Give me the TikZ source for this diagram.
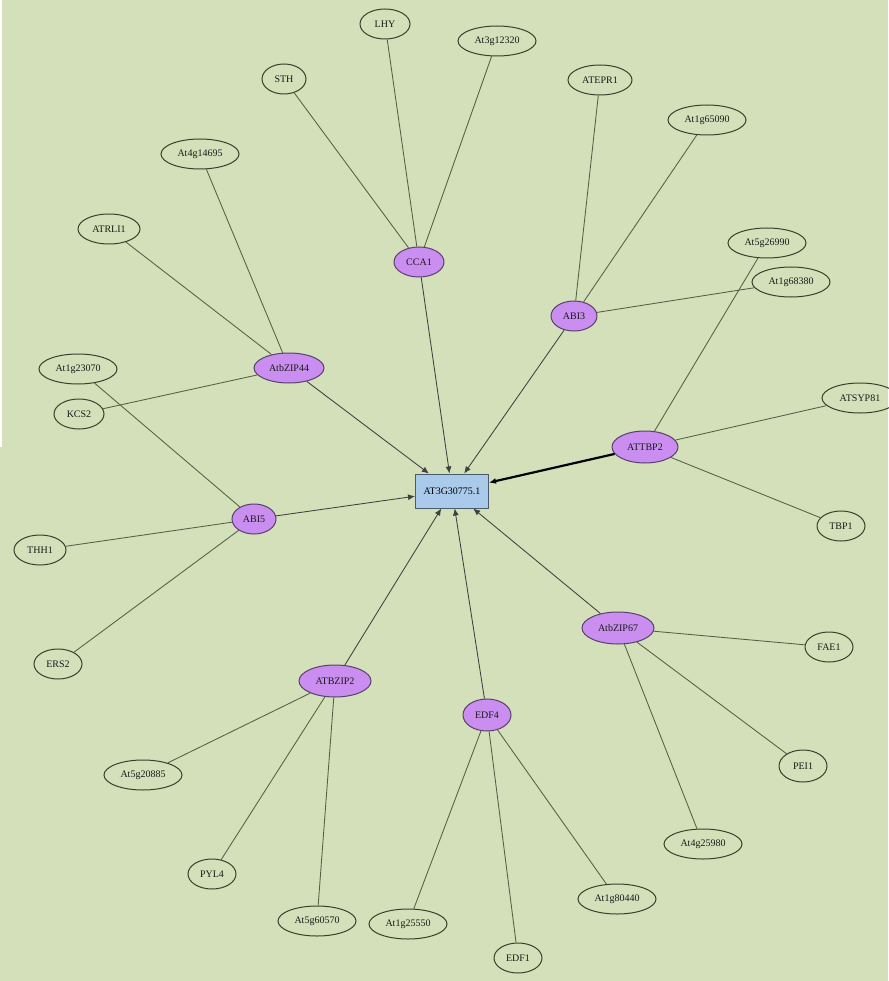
\documentclass[tikz,border=0pt]{standalone}
\usepackage{fontspec}
\setmainfont{Liberation Serif}
\usetikzlibrary{arrows.meta,shapes.geometric}
\definecolor{bgc}{RGB}{211,224,186}
\definecolor{hubc}{RGB}{201,142,240}
\definecolor{boxc}{RGB}{170,202,236}
\definecolor{edgec}{RGB}{82,96,70}
\definecolor{linec}{RGB}{55,65,45}
\tikzset{
  leaf/.style={ellipse, draw=linec, line width=1pt, inner sep=0pt, font=\fontsize{10}{11}\selectfont, text=black!90},
  hub/.style={leaf, fill=hubc, draw=hubc!45!black},
  target/.style={rectangle, draw=boxc!45!black, fill=boxc, line width=1pt, minimum width=73pt, minimum height=34pt, inner sep=0pt, font=\fontsize{10}{11}\selectfont},
  link/.style={draw=edgec, line width=0.85pt},
  arr/.style={draw=black!75, line width=0.85pt, -{Latex[length=7pt,width=6pt]}},
  thickarr/.style={draw=black, line width=2.2pt, -{Latex[length=7pt,width=6pt]}}
}
\begin{document}
\begin{tikzpicture}[x=1pt,y=-1pt]
\fill[bgc] (0,0) rectangle (888,981);
\fill[white] (0,0) rectangle (2,447);
\useasboundingbox (0,0) rectangle (888,981);
% target
\node[target] (T) at (452,491) {AT3G30775.1};
% hubs
\node[hub, minimum width=50pt, minimum height=30pt] (CCA1) at (419,262) {CCA1};
\node[hub, minimum width=46pt, minimum height=30pt] (ABI3) at (574,316) {ABI3};
\node[hub, minimum width=70pt, minimum height=30pt] (ZIP44) at (289,368) {AtbZIP44};
\node[hub, minimum width=66pt, minimum height=32pt] (TBP2) at (645,447) {ATTBP2};
\node[hub, minimum width=44pt, minimum height=30pt] (ABI5) at (254,519) {ABI5};
\node[hub, minimum width=72pt, minimum height=32pt] (BZIP2) at (335,681) {ATBZIP2};
\node[hub, minimum width=48pt, minimum height=32pt] (EDF4) at (487,715) {EDF4};
\node[hub, minimum width=72pt, minimum height=32pt] (ZIP67) at (618,628) {AtbZIP67};
% leaves
\node[leaf, minimum width=50pt, minimum height=30pt] (LHY) at (385,24) {LHY};
\node[leaf, minimum width=78pt, minimum height=30pt] (A3g12320) at (497,41) {At3g12320};
\node[leaf, minimum width=44pt, minimum height=30pt] (STH) at (284,79) {STH};
\node[leaf, minimum width=64pt, minimum height=30pt] (ATEPR1) at (600,80) {ATEPR1};
\node[leaf, minimum width=78pt, minimum height=30pt] (A1g65090) at (707,120) {At1g65090};
\node[leaf, minimum width=78pt, minimum height=30pt] (A4g14695) at (200,154) {At4g14695};
\node[leaf, minimum width=62pt, minimum height=30pt] (ATRLI1) at (109,229) {ATRLI1};
\node[leaf, minimum width=78pt, minimum height=30pt] (A5g26990) at (767,243) {At5g26990};
\node[leaf, minimum width=78pt, minimum height=30pt] (A1g68380) at (791,282) {At1g68380};
\node[leaf, minimum width=78pt, minimum height=30pt] (A1g23070) at (78,369) {At1g23070};
\node[leaf, minimum width=50pt, minimum height=30pt] (KCS2) at (79,414) {KCS2};
\node[leaf, minimum width=76pt, minimum height=30pt] (ATSYP81) at (860,398) {ATSYP81};
\node[leaf, minimum width=48pt, minimum height=30pt] (TBP1) at (841,526) {TBP1};
\node[leaf, minimum width=52pt, minimum height=30pt] (THH1) at (40,550) {THH1};
\node[leaf, minimum width=48pt, minimum height=30pt] (ERS2) at (58,664) {ERS2};
\node[leaf, minimum width=48pt, minimum height=30pt] (FAE1) at (829,647) {FAE1};
\node[leaf, minimum width=48pt, minimum height=32pt] (PEI1) at (803,766) {PEI1};
\node[leaf, minimum width=78pt, minimum height=30pt] (A4g25980) at (703,844) {At4g25980};
\node[leaf, minimum width=78pt, minimum height=30pt] (A5g20885) at (143,775) {At5g20885};
\node[leaf, minimum width=48pt, minimum height=30pt] (PYL4) at (212,874) {PYL4};
\node[leaf, minimum width=78pt, minimum height=30pt] (A5g60570) at (317,921) {At5g60570};
\node[leaf, minimum width=78pt, minimum height=30pt] (A1g25550) at (408,924) {At1g25550};
\node[leaf, minimum width=78pt, minimum height=30pt] (A1g80440) at (617,899) {At1g80440};
\node[leaf, minimum width=48pt, minimum height=30pt] (EDF1) at (518,958) {EDF1};
% leaf links
\path[link] (CCA1) -- (LHY) (CCA1) -- (A3g12320) (CCA1) -- (STH);
\path[link] (ABI3) -- (ATEPR1) (ABI3) -- (A1g65090) (ABI3) -- (A1g68380);
\path[link] (TBP2) -- (A5g26990) (TBP2) -- (ATSYP81) (TBP2) -- (TBP1);
\path[link] (ZIP44) -- (A4g14695) (ZIP44) -- (ATRLI1) (ZIP44) -- (KCS2);
\path[link] (ABI5) -- (A1g23070) (ABI5) -- (THH1) (ABI5) -- (ERS2);
\path[link] (BZIP2) -- (A5g20885) (BZIP2) -- (PYL4) (BZIP2) -- (A5g60570);
\path[link] (EDF4) -- (A1g25550) (EDF4) -- (EDF1) (EDF4) -- (A1g80440);
\path[link] (ZIP67) -- (FAE1) (ZIP67) -- (PEI1) (ZIP67) -- (A4g25980);
% arrows to target
\draw[arr] (CCA1) -- (T);
\draw[arr] (ABI3) -- (T);
\draw[arr] (ZIP44) -- (T);
\draw[thickarr] (TBP2) -- (T);
\draw[arr] (ABI5) -- (T);
\draw[arr] (BZIP2) -- (T);
\draw[arr] (EDF4) -- (T);
\draw[arr] (ZIP67) -- (T);
\end{tikzpicture}
\end{document}
